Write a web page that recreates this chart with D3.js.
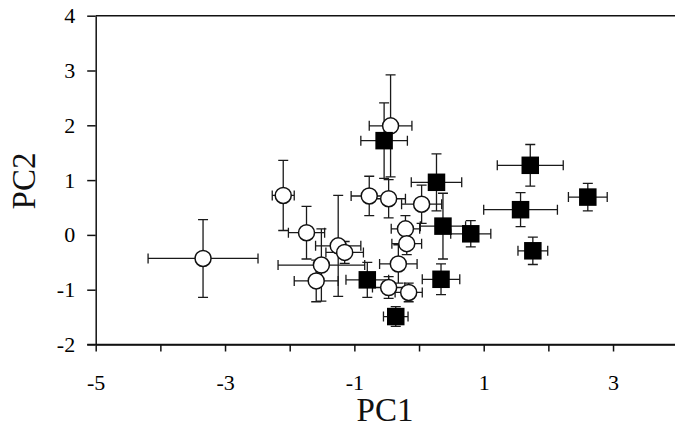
<!DOCTYPE html>
<html>
<head>
<meta charset="utf-8">
<script src="https://cdn.jsdelivr.net/npm/d3@7"></script>
<style>
  body { margin: 0; background: #fff; }
  svg { display: block; }
  .axis path, .axis line { stroke: #111; stroke-width: 1.5px; }
  .title { font-family: "Liberation Serif", "Times New Roman", serif; font-size: 33px; fill: #111; }
  .tick-label { font-family: "Liberation Serif", "Times New Roman", serif; font-size: 22px; fill: #000; }
</style>
</head>
<body>
<div class="graph-container"></div>
<script>
// data (PC1, PC2, error half-widths)
const openX    = [-3.34, -2.10, -1.74, -1.25, -1.15, -1.51, -1.59, -0.77, -0.47, -0.44, 0.04, -0.21, -0.19, -0.32, -0.47, -0.16];
const openY    = [-0.43,  0.72,  0.04, -0.20, -0.32, -0.55, -0.84,  0.71,  0.66,  1.99, 0.56,  0.11, -0.16, -0.53, -0.96, -1.05];
const openXErr = [ 0.85,  0.17,  0.28,  0.35,  0.29,  0.67,  0.34,  0.28,  0.26,  0.33, 0.31,  0.22,  0.23,  0.29,  0.25,  0.21];
const openYErr = [ 0.71,  0.64,  0.48,  0.92,  0.20,  0.66,  0.38,  0.36,  0.35,  0.93, 0.35,  0.24,  0.20,  0.35,  0.20,  0.17];

const filledX    = [-0.54, 0.27, 0.37, 0.80, 1.57, 1.72,  1.76, 2.61, -0.80, 0.34, -0.36];
const filledY    = [ 1.72, 0.96, 0.16, 0.02, 0.46, 1.27, -0.29, 0.69, -0.82, -0.81, -1.49];
const filledXErr = [ 0.36, 0.39, 0.35, 0.31, 0.57, 0.51,  0.23, 0.30,  0.33, 0.29,  0.19];
const filledYErr = [ 0.69, 0.52, 0.60, 0.24, 0.31, 0.38,  0.25, 0.25,  0.32, 0.28,  0.18];

const xTicks = [-5, -4, -3, -2, -1, 0, 1, 2, 3, 4];
const xLabels = [-5, -3, -1, 1, 3];
const yTicks = [-2, -1, 0, 1, 2, 3, 4];

const w = 675;
const h = 427;

const xScale = d3.scaleLinear().domain([-5, 4]).range([95.7, 677.7]);
const yScale = d3.scaleLinear().domain([-2, 4]).range([344.5, 15.7]);

const svg = d3.select('.graph-container')
  .append('svg')
  .attr('width', w)
  .attr('height', h);

// frame line on top
svg.append('line')
  .attr('x1', xScale(-5)).attr('x2', xScale(4))
  .attr('y1', yScale(4)).attr('y2', yScale(4))
  .attr('stroke', '#111').attr('stroke-width', 1.5);

const xAxis = d3.axisBottom(xScale)
  .tickValues(xTicks)
  .tickSize(7)
  .tickSizeOuter(0)
  .tickFormat(d => xLabels.includes(d) ? String(d) : '');

const yAxis = d3.axisLeft(yScale)
  .tickValues(yTicks)
  .tickSize(8.5)
  .tickSizeOuter(0)
  .tickFormat(d => String(d));

const gx = svg.append('g')
  .attr('class', 'axis')
  .attr('transform', 'translate(0,' + yScale(-2) + ')')
  .call(xAxis)
  .attr('font-size', null)
  .attr('font-family', null);
gx.selectAll('text')
  .attr('class', 'tick-label')
  .attr('fill', null)
  .attr('y', 45.5)
  .attr('dy', 0);

const gy = svg.append('g')
  .attr('class', 'axis')
  .attr('transform', 'translate(' + xScale(-5) + ',0)')
  .call(yAxis)
  .attr('font-size', null)
  .attr('font-family', null);
gy.selectAll('text')
  .attr('class', 'tick-label')
  .attr('fill', null)
  .attr('x', -20.5);

// the x axis line must reach the -2 tick on the left
svg.append('line')
  .attr('x1', xScale(-5) - 8.5).attr('x2', xScale(4))
  .attr('y1', yScale(-2)).attr('y2', yScale(-2))
  .attr('stroke', '#111').attr('stroke-width', 1.5);

svg.append('text')
  .attr('class', 'title')
  .attr('x', 385)
  .attr('y', 421)
  .attr('text-anchor', 'middle')
  .text('PC1');

svg.append('text')
  .attr('class', 'title')
  .attr('transform', 'translate(35,181) rotate(-90)')
  .attr('text-anchor', 'middle')
  .text('PC2');

const cap = 5;

function errorBars(xs, ys, xe, ye) {
  const g = svg.append('g')
    .attr('stroke', '#1a1a1a')
    .attr('stroke-width', 1.3)
    .attr('fill', 'none');
  xs.forEach((x, i) => {
    const cx = xScale(x), cy = yScale(ys[i]);
    const x0 = xScale(x - xe[i]), x1 = xScale(x + xe[i]);
    const y0 = yScale(ys[i] + ye[i]), y1 = yScale(ys[i] - ye[i]);
    g.append('path')
      .attr('d',
        'M' + x0 + ',' + cy + 'H' + x1 +
        'M' + x0 + ',' + (cy - cap) + 'V' + (cy + cap) +
        'M' + x1 + ',' + (cy - cap) + 'V' + (cy + cap) +
        'M' + cx + ',' + y0 + 'V' + y1 +
        'M' + (cx - cap) + ',' + y0 + 'H' + (cx + cap) +
        'M' + (cx - cap) + ',' + y1 + 'H' + (cx + cap));
  });
}

errorBars(openX, openY, openXErr, openYErr);
errorBars(filledX, filledY, filledXErr, filledYErr);

svg.append('g')
  .selectAll('circle')
  .data(openX)
  .enter()
  .append('circle')
  .attr('cx', d => xScale(d))
  .attr('cy', (d, i) => yScale(openY[i]))
  .attr('r', 8)
  .attr('fill', '#fff')
  .attr('stroke', '#111')
  .attr('stroke-width', 1.5);

const side = 17.5;
svg.append('g')
  .selectAll('rect')
  .data(filledX)
  .enter()
  .append('rect')
  .attr('x', d => xScale(d) - side / 2)
  .attr('y', (d, i) => yScale(filledY[i]) - side / 2)
  .attr('width', side)
  .attr('height', side)
  .attr('fill', '#000');
</script>
</body>
</html>
